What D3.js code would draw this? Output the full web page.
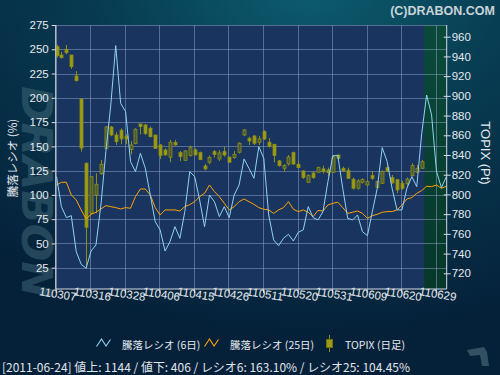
<!DOCTYPE html>
<html><head><meta charset="utf-8">
<script src="https://cdn.jsdelivr.net/npm/d3@7"></script>
<style>
html,body{margin:0;padding:0;background:#06283c;}
svg{display:block;}
</style></head>
<body>
<svg id="c" width="500" height="375"></svg>
<script>
// ---------------- data ----------------
const xTickLabels = ["110307","110316","110328","110406","110415","110426","110511","110520","110531","110609","110620","110629"];
const leftTicks = [25,50,75,100,125,150,175,200,225,250,275];
const rightTicks = [720,740,760,780,800,820,840,860,880,900,920,940,960];

// 騰落レシオ (6日)
const ratio6 = [118.8,87.9,76.6,78.6,41.5,28.5,24.4,42.2,48.4,89.6,
  144.6,192.6,253.8,194.4,185.8,134.3,124,142.8,127.4,99.9,
  72.5,63.9,42.2,51.8,67.3,55.3,82.8,124,118.8,94.8,
  67.3,99.9,93,77.6,87.9,76.6,99.9,110.2,137,127.4,
  117.1,149.7,137.7,79.3,53.6,47.7,55.3,59.4,52.5,61.5,
  63.9,87.9,76.6,74.2,82.8,113.7,140.4,140.4,106.8,75.9,
  74.2,79.3,62.1,58,82.8,106.8,148.7,134.3,106.8,84.5,
  84.5,106.8,118.8,108.5,163.1,202.9,182.4,124,107.5,118.8];
// 騰落レシオ (25日)
const ratio25 = [110.2,113,113,99.9,94.8,84.5,75.2,80,82.1,85.5,
  88.9,87.9,86.9,85.5,86.9,86.2,98.2,106.1,106.1,99.9,
  86.9,79.3,84.5,84.5,84.5,83.4,87.9,90,93,98.2,
  101.6,110.2,103.4,98.2,91.3,84.5,87.9,93,95.8,93,
  90.3,86.9,85.2,84.5,81,84.5,86.9,93,85.2,82.8,
  84.5,82.1,77.6,84,83.4,89.6,91.3,92.4,86.9,81,
  82.1,83.4,81,75.9,78.6,80,82.1,82.8,82.8,84.5,
  89.6,95.8,97.2,101.6,104.45,108.9,108.5,110.2,106.8,108.9];
// TOPIX (日足)
const topixOpen = [949.9,941.4,947.2,941.4,920.1,896.8,831.6,781,799.5,821.1,
  846.8,868.4,860.3,865.1,859,845.5,851.5,871.5,870.5,867.1,
  860.3,850.2,845.1,837.7,852.6,842.4,834.6,839.4,845.1,842.4,
  828.9,832.6,843.4,836,843.4,838,837.4,842.8,860.3,857,
  859.3,852.9,863.7,852.9,850.9,834,826.5,830.9,842.4,830.6,
  823.8,812.3,821.8,822.5,825.9,824.8,822.5,840,826.5,824.5,
  815.4,806.3,812.3,809.6,819.1,807,811.3,827.2,817.1,815,
  811,811,819.1,822.5,826.5];
const topixHigh = [952,944.8,951.6,941.4,925.2,897.5,832.5,818.5,821.5,835,
  869.5,869.5,863,867.1,861,854.3,867.1,871.5,871.5,868.8,
  860.3,850.9,846.8,855.3,855.3,844.1,844.8,849.5,846.8,843.4,
  831,839.4,845.1,844.8,848.2,838,844.1,852.9,866.4,858.6,
  860.3,859.3,865.1,857,850.9,835,830.6,840,843.4,834,
  824.8,820.4,823.8,828.2,829.2,827.2,840,840.7,828.2,827.2,
  817.1,815.4,816.4,814.7,823.8,813.7,824.5,829.2,819.8,815.7,
  814,817.1,831.6,829.9,835];
const topixLow = [939,938,942.1,927.3,914.4,843.4,725,780,780.9,819.8,
  846,859,850.2,851,851,840.7,850.9,861,860.3,858,
  846.1,836,839.4,832.6,849.5,834,834,838.4,839.4,835,
  824.2,830.6,837.4,834,838.4,832.6,836,841.4,859.3,850.2,
  850.2,850.2,855.3,847.5,832.6,828.2,823.1,829.2,829.9,826.5,
  815.7,811.7,815.7,821.8,821.1,818.1,821.8,834,823.1,815.7,
  805,805,811,808,814.7,806.3,810.6,822.5,811,801.2,
  804.6,808.9,818.1,821.8,825.9];
const topixClose = [940.8,938.7,943.8,929.6,915.5,847,766.7,818,810.3,830.6,
  868.4,860.3,853.6,856.3,856.3,850.2,866.1,868.8,861.7,858.6,
  846.8,839.4,840.1,852.9,850.2,838.4,844.1,847.5,840.1,835.3,
  825.9,837.4,840.7,842.1,840,832.6,840.7,851.9,865.4,854.2,
  851.9,856.3,856.3,848.5,839.4,829.2,829.2,838,830.9,827.2,
  817.1,819.1,817.1,827.2,823.1,822.1,838,836.7,823.8,816.4,
  806.3,813.7,815,813,816.4,813,823.1,823.8,811.7,804.6,
  806.3,815.6,829.2,826.5,833.3];

const footerText = "[2011-06-24]  値上: 1144 / 値下: 406 / レシオ6: 163.10% / レシオ25: 104.45%";
const legendLabels = ["騰落レシオ (6日)", "騰落レシオ (25日)", "TOPIX (日足)"];

// ---------------- drawing ----------------
const svg = d3.select("#c");
const defs = svg.append("defs");
const bg = defs.append("radialGradient").attr("id","bg").attr("cx","62%").attr("cy","-5%").attr("r","95%");
bg.append("stop").attr("offset","0%").attr("stop-color","#0d5d6f");
bg.append("stop").attr("offset","45%").attr("stop-color","#073b51");
bg.append("stop").attr("offset","100%").attr("stop-color","#05213a");
const gg = defs.append("linearGradient").attr("id","gz").attr("x1",0).attr("y1",0).attr("x2",0).attr("y2",1);
gg.append("stop").attr("offset","0%").attr("stop-color","#0a4a3b");
gg.append("stop").attr("offset","100%").attr("stop-color","#06372a");

svg.append("rect").attr("width",500).attr("height",375).attr("fill","url(#bg)");

// watermark
svg.append("text").attr("transform","translate(20,86) rotate(90)")
  .attr("font-family","DejaVu Sans").attr("font-weight","bold").attr("font-style","italic")
  .attr("font-size",42).attr("fill","#3e6474").attr("opacity",0.55)
  .attr("textLength",212).attr("lengthAdjust","spacingAndGlyphs").attr("dy","-0.05em")
  .text("DRABON");

// copyright
svg.append("text").attr("x",495).attr("y",15).attr("text-anchor","end")
  .attr("font-family","Liberation Sans, Arial, sans-serif").attr("font-weight","bold").attr("font-size",12.5)
  .attr("fill","#c9d3d8")
  .text("(C)DRABON.COM");

const L = 55.7, R = 446.7, T = 25, B = 289;
const xS = d3.scaleLinear().domain([0,77]).range([55.7,435.7]);
const yL = d3.scaleLinear().domain([25,275]).range([267.7,25]);
const yR = d3.scaleLinear().domain([720,960]).range([273.3,36.7]);
const cx = i => xS(i) + 0.8;

defs.append("clipPath").attr("id","clip").append("rect").attr("x",L).attr("y",T).attr("width",R-L).attr("height",B-T);

// plot background
svg.append("rect").attr("x",L).attr("y",T).attr("width",R-L).attr("height",B-T).attr("fill","#1a3460");
svg.append("rect").attr("x",cx(74.5)).attr("y",T).attr("width",R-cx(74.5)).attr("height",B-T).attr("fill","url(#gz)");

// grid
const grid = svg.append("g").attr("stroke","#8a9cc0").attr("stroke-opacity",0.55).attr("stroke-width",1).attr("shape-rendering","crispEdges");
grid.selectAll(".h").data(leftTicks).join("line")
  .attr("x1",L).attr("x2",R).attr("y1",d=>Math.round(yL(d))+0.5).attr("y2",d=>Math.round(yL(d))+0.5);
grid.selectAll(".v").data(d3.range(0,78,7)).join("line")
  .attr("x1",d=>Math.round(xS(d))+0.5).attr("x2",d=>Math.round(xS(d))+0.5).attr("y1",T).attr("y2",B);

const plot = svg.append("g").attr("clip-path","url(#clip)");

// candles
const idx = d3.range(topixOpen.length);
const cg = plot.append("g");
cg.selectAll("line").data(idx).join("line")
  .attr("x1",i=>Math.round(cx(i))+0.5).attr("x2",i=>Math.round(cx(i))+0.5)
  .attr("y1",i=>yR(topixHigh[i])).attr("y2",i=>yR(topixLow[i]))
  .attr("stroke","#8f8f12").attr("stroke-width",1);
cg.selectAll("rect").data(idx).join("rect")
  .attr("x",i=>Math.round(cx(i))-1)
  .attr("width",3)
  .attr("y",i=>yR(Math.max(topixOpen[i],topixClose[i])))
  .attr("height",i=>Math.max(1.5, Math.abs(yR(topixOpen[i])-yR(topixClose[i]))))
  .attr("fill",i=>topixClose[i]>=topixOpen[i] ? "#4a5a36" : "#9c9c14")
  .attr("stroke","#8f8f12").attr("stroke-width",0.8);

// lines
const lineGen = d3.line().x((d,i)=>cx(i)).y(d=>yL(d));
plot.append("path").datum(ratio25).attr("d",lineGen).attr("fill","none").attr("stroke","#ffa500").attr("stroke-width",1);
plot.append("path").datum(ratio6).attr("d",lineGen).attr("fill","none").attr("stroke","#8fd3f2").attr("stroke-width",1);

// axes
const axisColor = "#d6dbe4";
function styleAxis(g){
  g.select(".domain").attr("stroke",axisColor);
  g.selectAll(".tick line").attr("stroke",axisColor);
  g.selectAll(".tick text").attr("fill","#e6e9ee").attr("font-family","Liberation Sans, Arial, sans-serif");
}
const gl = svg.append("g").attr("transform",`translate(${L},0)`)
  .call(d3.axisLeft(yL).tickValues(leftTicks).tickSize(4).tickSizeOuter(0).tickPadding(3))
  .call(styleAxis);
gl.selectAll(".tick text").attr("font-size",11.5);

const gr = svg.append("g").attr("transform",`translate(${R},0)`)
  .call(d3.axisRight(yR).tickValues(rightTicks).tickSize(4).tickSizeOuter(0).tickPadding(1))
  .call(styleAxis);
gr.selectAll(".tick line").attr("x1",-3);
gr.selectAll(".tick text").attr("font-size",11.5);
gr.select(".domain").attr("d",`M0,${T}V${B}`);
gl.select(".domain").attr("d",`M0,${T}V${B}`);

const gb = svg.append("g").attr("transform",`translate(0,${B})`)
  .call(d3.axisBottom(xS).tickValues(d3.range(0,78,7)).tickFormat((d,i)=>xTickLabels[i]).tickSize(4).tickSizeOuter(0))
  .call(styleAxis);
gb.select(".domain").attr("d",`M${L},0H${R}`);
gb.selectAll(".tick text").attr("font-size",11.5).attr("y",0).attr("dy",0)
  .attr("transform","translate(1,9) rotate(9)");

// axis titles
svg.append("text").attr("transform","translate(12,158) rotate(-90)").attr("text-anchor","middle")
  .attr("dominant-baseline","central").attr("font-family","Noto Sans CJK JP").attr("font-size",11.5)
  .attr("fill","#e6e9ee").text("騰落レシオ (%)");
svg.append("text").attr("transform","translate(485,153) rotate(90)").attr("text-anchor","middle")
  .attr("dominant-baseline","central").attr("font-family","Liberation Sans, Arial, sans-serif").attr("font-size",13)
  .attr("fill","#e6e9ee").text("TOPIX (Pt)");

// legend
const lg = svg.append("g");
lg.append("path").attr("d","M96.5,346.5 L101.5,339 L106,346 L110.5,339.5").attr("fill","none").attr("stroke","#8fd3f2").attr("stroke-width",1.1);
lg.append("path").attr("d","M204.5,346.5 L209.5,339 L214,346 L218.5,339.5").attr("fill","none").attr("stroke","#ffa500").attr("stroke-width",1.1);
lg.append("line").attr("x1",329.5).attr("x2",329.5).attr("y1",335).attr("y2",352).attr("stroke","#8f8f12");
lg.append("rect").attr("x",326.5).attr("y",339.5).attr("width",6).attr("height",8).attr("fill","#9c9c14").attr("stroke","#6f6f0e");
const lx = [122, 230, 345];
lg.selectAll("text").data(legendLabels).join("text")
  .attr("x",(d,i)=>lx[i]).attr("y",344).attr("dominant-baseline","central")
  .attr("font-family","Noto Sans CJK JP").attr("font-size",10.5).attr("fill","#e6e9ee")
  .text(d=>d);

// footer
svg.append("text").attr("x",2).attr("y",366).attr("dominant-baseline","central")
  .attr("font-family","Noto Sans CJK JP").attr("font-size",12).attr("fill","#e0e4ea")
  .attr("textLength",408).attr("lengthAdjust","spacingAndGlyphs")
  .text(footerText);

// small logo bottom right
svg.append("path").attr("d","M467,350 L484,347 L487,352 L489,366 L482,366 L480,355 L470,356 Z")
  .attr("fill","#3c5d6c").attr("opacity",0.8);
</script>
</body></html>
